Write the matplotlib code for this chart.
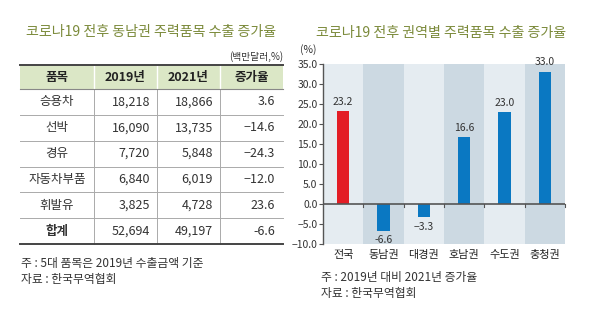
import matplotlib.pyplot as plt

plt.rcParams["font.family"] = ["Noto Sans CJK KR", "DejaVu Sans"]
plt.rcParams["axes.unicode_minus"] = True

# 동남권 주력품목 수출 (백만달러, %)
items = ["승용차", "선박", "경유", "자동차부품", "휘발유", "합계"]
exp_2019 = [18218, 16090, 7720, 6840, 3825, 52694]
exp_2021 = [18866, 13735, 5848, 6019, 4728, 49197]
growth = [3.6, -14.6, -24.3, -12.0, 23.6, -6.6]

# 권역별 증가율 (%)
regions = ["전국", "동남권", "대경권", "호남권", "수도권", "충청권"]
region_growth = [23.2, -6.6, -3.3, 16.6, 23.0, 33.0]

TITLE_COLOR = "#7b8a3a"
TEXT_COLOR = "#333333"
HEADER_BG = "#dbe7c6"
BAND_LIGHT = "#e5ecf1"
BAND_DARK = "#ccd9e2"
RED = "#e31d25"
BLUE = "#0a78c2"

W, H = 600, 330
fig = plt.figure(figsize=(W / 100, H / 100), dpi=100)
fig.patch.set_facecolor("white")

# pixel-coordinate canvas for the table and free text
canvas = fig.add_axes([0, 0, 1, 1])
canvas.set_xlim(0, W)
canvas.set_ylim(H, 0)
canvas.axis("off")


def fmt_num(v):
    return f"{v:,}"


def fmt_pct(v):
    return f"{v:.1f}".replace("-", "\u2212")


# ---- left: table ----
canvas.text(151, 32, "코로나19 전후 동남권 주력품목 수출 증가율", ha="center", va="center",
            fontsize=10.1, color=TITLE_COLOR, fontweight="medium")
canvas.text(283, 57, "(백만달러,%)", ha="right", va="center", fontsize=7, color=TEXT_COLOR)

left, right = 20, 283
col_edges = [20, 94, 157, 220, 283]
header_top, header_bot = 65, 89
row_h = (244 - header_bot) / len(items)

canvas.add_patch(plt.Rectangle((left, header_top), right - left, header_bot - header_top,
                               facecolor=HEADER_BG, edgecolor="none", zorder=1))
headers = ["품목", "2019년", "2021년", "증가율"]
for i, h in enumerate(headers):
    cx = (col_edges[i] + col_edges[i + 1]) / 2
    canvas.text(cx, (header_top + header_bot) / 2, h, ha="center", va="center",
                fontsize=9, fontweight="bold", color="#222222", zorder=3)
for x in col_edges[1:-1]:
    canvas.plot([x, x], [header_top, header_bot], color="white", lw=1, zorder=2)
    canvas.plot([x, x], [header_bot, 244], color="#aaaaaa", lw=0.7, zorder=2)

canvas.plot([left, right], [header_top, header_top], color="#444444", lw=1.4, zorder=3)
canvas.plot([left, right], [header_bot, header_bot], color="#888888", lw=0.8, zorder=3)

for r, name in enumerate(items):
    y0 = header_bot + r * row_h
    yc = y0 + row_h / 2
    is_total = name == "합계"
    weight = "bold" if is_total else "normal"
    canvas.text((col_edges[0] + col_edges[1]) / 2, yc, name, ha="center", va="center",
                fontsize=9, fontweight=weight, color=TEXT_COLOR)
    canvas.text(col_edges[2] - 7, yc, fmt_num(exp_2019[r]), ha="right", va="center",
                fontsize=9, color=TEXT_COLOR)
    canvas.text(col_edges[3] - 7, yc, fmt_num(exp_2021[r]), ha="right", va="center",
                fontsize=9, color=TEXT_COLOR)
    pct = f"{growth[r]:.1f}" if is_total else fmt_pct(growth[r])
    canvas.text(col_edges[4] - 8, yc, pct, ha="right", va="center",
                fontsize=9, color=TEXT_COLOR)
    if r < len(items) - 1:
        canvas.plot([left, right], [y0 + row_h] * 2, color="#aaaaaa", lw=0.7, zorder=3)

canvas.plot([left, right], [244, 244], color="#444444", lw=1.4, zorder=3)

canvas.text(21, 263, "주 : 5대 품목은 2019년 수출금액 기준", ha="left", va="center",
            fontsize=8.5, color=TEXT_COLOR)
canvas.text(21, 280, "자료 : 한국무역협회", ha="left", va="center",
            fontsize=8.5, color=TEXT_COLOR)

# ---- right: bar chart ----
canvas.text(441, 33, "코로나19 전후 권역별 주력품목 수출 증가율", ha="center", va="center",
            fontsize=10.1, color=TITLE_COLOR, fontweight="medium")
canvas.text(300, 50, "(%)", ha="left", va="center", fontsize=7.5, color=TEXT_COLOR)

ax_l, ax_r, ax_t, ax_b = 323, 565, 63.5, 244.3
ax = fig.add_axes([ax_l / W, (H - ax_b) / H, (ax_r - ax_l) / W, (ax_b - ax_t) / H])
ax.set_xlim(-0.5, len(regions) - 0.5)
ax.set_ylim(-10, 35)

for i in range(len(regions)):
    ax.axvspan(i - 0.5, i + 0.5, color=BAND_LIGHT if i % 2 == 0 else BAND_DARK,
               lw=0, zorder=0)

colors = [RED] + [BLUE] * (len(regions) - 1)
xs = list(range(len(regions)))
ax.bar(xs, region_growth, width=0.31, color=colors, zorder=2)

for x, v in zip(xs, region_growth):
    if v >= 0:
        ax.annotate(f"{v:.1f}", (x, v), xytext=(0, 3), textcoords="offset points",
                    ha="center", va="bottom", fontsize=7.5, color=TEXT_COLOR)
    else:
        ax.annotate(f"{v:.1f}".replace("-", "\u2212") if x > 1 else f"{v:.1f}", (x, v),
                    xytext=(0, -3), textcoords="offset points",
                    ha="center", va="top", fontsize=7.5, color=TEXT_COLOR)

ax.axhline(0, color="#555555", lw=1.2, zorder=3)
for b in range(len(regions)):
    ax.plot([b + 0.5, b + 0.5], [0, -0.8], color="#555555", lw=0.8, zorder=3,
            clip_on=False)

yt = [-10 + 5 * k for k in range(10)]
ax.set_yticks(yt)
ax.set_yticklabels([f"{t:.1f}".replace("-", "\u2212") for t in yt], fontsize=7.5,
                   color=TEXT_COLOR)
ax.tick_params(axis="y", length=3, width=0.8, color="#555555", pad=1)
ax.set_xticks(xs)
ax.set_xticklabels(regions, fontsize=8, color="#222222", fontweight="medium")
ax.tick_params(axis="x", length=0, pad=4)

for side in ["top", "right", "bottom"]:
    ax.spines[side].set_visible(False)
ax.spines["left"].set_color("#555555")
ax.spines["left"].set_linewidth(1.0)

canvas.text(321, 278, "주 : 2019년 대비 2021년 증가율", ha="left", va="center",
            fontsize=8.5, color=TEXT_COLOR)
canvas.text(321, 294, "자료 : 한국무역협회", ha="left", va="center",
            fontsize=8.5, color=TEXT_COLOR)

fig.savefig("out.png", dpi=100)
